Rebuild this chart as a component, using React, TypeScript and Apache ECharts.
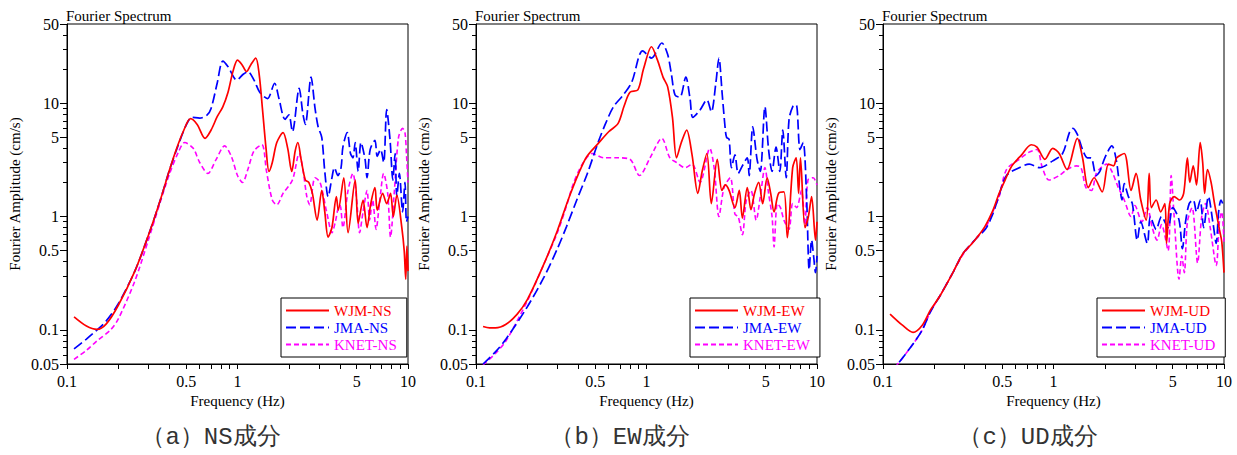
import React, { useEffect, useRef } from 'react';
import * as echarts from 'echarts';

type P = [number, number];

// ---- ticks ----
const xMajorTicks = [0.1, 0.5, 1, 5, 10];
const xMinorTicks = [0.2, 0.3, 0.4, 0.6, 0.7, 0.8, 0.9, 2, 3, 4, 6, 7, 8, 9];
const yMajorTicks = [0.05, 0.1, 0.5, 1, 5, 10, 50];
const yMinorTicks = [0.06, 0.07, 0.08, 0.09, 0.2, 0.3, 0.4, 0.6, 0.7, 0.8, 0.9, 2, 3, 4, 6, 7, 8, 9, 20, 30, 40];

const panelTitle = 'Fourier Spectrum';
const xName = 'Frequency (Hz)';
const yName = 'Fourier Amplitude (cm/s)';
const captions = ['（a）NS成分', '（b）EW成分', '（c）UD成分'];
const seriesNames = [
  ['WJM-NS', 'JMA-NS', 'KNET-NS'],
  ['WJM-EW', 'JMA-EW', 'KNET-EW'],
  ['WJM-UD', 'JMA-UD', 'KNET-UD'],
];

// ---- NS ----
const nsWJM: P[] = [
  [0.11, 0.13], [0.13, 0.108], [0.15, 0.101], [0.17, 0.113], [0.2, 0.165], [0.25, 0.33], [0.3, 0.68], [0.35, 1.35],
  [0.4, 2.6], [0.44, 4.0], [0.48, 5.6], [0.53, 7.3], [0.58, 6.5], [0.645, 4.9], [0.7, 5.8], [0.76, 7.6], [0.82, 9.3],
  [0.88, 12.5], [0.94, 19], [1.0, 24], [1.06, 22], [1.13, 19], [1.2, 22], [1.28, 25], [1.34, 18], [1.4, 9],
  [1.47, 4], [1.53, 2.5], [1.6, 3], [1.7, 4.5], [1.85, 5.5], [1.97, 4], [2.08, 2.5], [2.18, 3.8], [2.26, 4.5],
  [2.36, 3.2], [2.5, 2.1], [2.62, 2.0], [2.75, 1.6], [2.93, 0.93], [3.12, 1.7], [3.25, 1.1], [3.4, 0.66],
  [3.58, 0.8], [3.8, 1.5], [3.9, 1.14], [4.2, 2.2], [4.45, 0.72], [4.9, 2.1], [5.1, 0.87], [5.45, 1.4],
  [5.75, 0.8], [6.05, 1.3], [6.4, 1.8], [6.6, 1.14], [7.1, 1.6], [7.5, 1.3], [7.9, 1.6], [8.2, 1.0], [8.6, 1.55],
  [9.2, 0.8], [9.5, 0.5], [9.7, 0.28], [9.85, 0.55], [10, 0.33],
];
const nsJMA: P[] = [
  [0.11, 0.068], [0.13, 0.083], [0.15, 0.1], [0.17, 0.12], [0.2, 0.17], [0.25, 0.33], [0.3, 0.68], [0.35, 1.35],
  [0.4, 2.6], [0.45, 4.3], [0.5, 6.4], [0.54, 7.5], [0.6, 7.4], [0.66, 7.8], [0.7, 9], [0.76, 15], [0.82, 23.5],
  [0.88, 21], [0.99, 16], [1.08, 18], [1.15, 19], [1.25, 16], [1.35, 12.5], [1.5, 11], [1.65, 15], [1.75, 11],
  [1.9, 7.2], [2.0, 7.9], [2.1, 5.6], [2.3, 13.5], [2.42, 8], [2.5, 6.5], [2.7, 17], [2.85, 9], [2.97, 6.2],
  [3.12, 5.0], [3.25, 2.5], [3.4, 1.5], [3.58, 2.2], [3.7, 2.7], [3.88, 2.3], [4.05, 2.7], [4.15, 4.1], [4.4, 5.5],
  [4.6, 3.6], [4.75, 3.3], [4.9, 4.5], [5.1, 2.5], [5.3, 4.5], [5.6, 3.2], [5.75, 2.2], [6.0, 3.9], [6.4, 4.7],
  [6.6, 3.4], [6.9, 3.9], [7.2, 3.0], [7.5, 8.8], [7.85, 4.7], [8.15, 2.1], [8.4, 3.6], [8.6, 1.5], [8.9, 2.4],
  [9.3, 1.1], [9.6, 2.0], [9.8, 0.9], [10, 1.0],
];
const nsKNET: P[] = [
  [0.11, 0.055], [0.13, 0.066], [0.15, 0.08], [0.18, 0.1], [0.2, 0.125], [0.25, 0.27], [0.3, 0.62], [0.35, 1.3],
  [0.4, 2.4], [0.45, 3.7], [0.49, 4.5], [0.55, 4.0], [0.6, 3.0], [0.67, 2.4], [0.75, 3.2], [0.84, 4.2], [0.92, 3.4],
  [1.0, 2.3], [1.07, 2.0], [1.15, 2.6], [1.25, 3.8], [1.39, 4.3], [1.48, 2.5], [1.6, 1.4], [1.7, 1.27], [1.85, 1.6],
  [2.1, 2.1], [2.3, 3.6], [2.42, 2.6], [2.55, 1.5], [2.65, 1.27], [2.85, 2.2], [3.05, 2.0], [3.35, 1.06],
  [3.58, 0.72], [3.75, 0.9], [3.9, 1.2], [4.0, 1.25], [4.15, 0.8], [4.45, 1.7], [4.75, 2.4], [5.0, 1.4],
  [5.2, 0.72], [5.45, 1.1], [5.75, 1.7], [5.95, 0.93], [6.2, 1.4], [6.5, 0.77], [6.8, 1.3], [7.2, 2.4],
  [7.6, 1.6], [7.9, 0.66], [8.3, 1.6], [8.8, 5.0], [9.3, 6.0], [9.6, 5.5], [9.8, 3.5], [10, 2.0],
];

// ---- EW ----
const ewWJM: P[] = [
  [0.11, 0.107], [0.12, 0.104], [0.13, 0.104], [0.15, 0.112], [0.174, 0.137], [0.2, 0.185], [0.25, 0.38],
  [0.3, 0.75], [0.347, 1.4], [0.4, 2.4], [0.446, 3.37], [0.52, 4.4], [0.6, 5.6], [0.68, 6.6], [0.74, 9.5],
  [0.8, 12.5], [0.89, 13.1], [0.96, 20], [1.07, 31.5], [1.16, 24], [1.25, 17], [1.33, 14], [1.42, 7.5], [1.5, 3.3],
  [1.6, 4.5], [1.72, 5.8], [1.85, 3.5], [2.0, 1.6], [2.12, 2.5], [2.26, 3.6], [2.4, 1.3], [2.6, 3.2], [2.77, 1.7],
  [2.9, 1.9], [3.05, 1.7], [3.3, 1.2], [3.5, 1.7], [3.65, 0.97], [3.9, 1.8], [4.1, 1.15], [4.3, 1.6], [4.55, 2.0],
  [4.8, 1.3], [5.1, 2.2], [5.35, 1.6], [5.6, 1.1], [5.95, 1.6], [6.4, 1.65], [6.7, 0.65], [7.2, 2.7], [7.55, 3.3],
  [7.8, 1.6], [8.0, 3.3], [8.5, 0.8], [8.9, 1.0], [9.3, 1.5], [9.8, 0.62], [10, 0.9],
];
const ewJMA: P[] = [
  [0.11, 0.05], [0.13, 0.064], [0.15, 0.083], [0.2, 0.16], [0.25, 0.29], [0.3, 0.52], [0.34, 0.82], [0.39, 1.4],
  [0.45, 2.4], [0.52, 4.5], [0.58, 6.8], [0.64, 9.3], [0.73, 11.8], [0.82, 15.4], [0.95, 29], [1.07, 25],
  [1.23, 34], [1.33, 27], [1.4, 18], [1.47, 11.8], [1.57, 11.3], [1.7, 17], [1.8, 11], [1.87, 7.5], [2.06, 8.7],
  [2.26, 10.7], [2.4, 8.4], [2.55, 15], [2.66, 25], [2.78, 12], [2.9, 5.8], [2.95, 5.0], [3.05, 4.8], [3.15, 2.7],
  [3.3, 3.5], [3.45, 2.4], [3.65, 2.8], [3.9, 3.3], [4.0, 2.3], [4.2, 6.2], [4.45, 3.2], [4.65, 2.5], [4.95, 9.3],
  [5.2, 3.9], [5.45, 2.5], [5.75, 4.1], [6.05, 2.5], [6.3, 5.8], [6.6, 2.2], [6.85, 7.1], [7.2, 9.3], [7.55, 9.7],
  [7.95, 3.9], [8.3, 4.5], [8.7, 1.4], [9.0, 0.34], [9.3, 0.62], [9.55, 0.45], [9.8, 0.32], [10, 0.45],
];
const ewKNET: P[] = [
  [0.11, 0.049], [0.13, 0.062], [0.15, 0.08], [0.2, 0.18], [0.25, 0.38], [0.3, 0.72], [0.34, 1.25], [0.37, 1.9],
  [0.42, 2.9], [0.48, 3.6], [0.56, 3.3], [0.68, 3.3], [0.8, 3.2], [0.91, 2.3], [1.05, 3.3], [1.23, 4.9],
  [1.37, 3.3], [1.5, 3.0], [1.68, 2.7], [1.85, 2.9], [2.06, 2.0], [2.35, 4.0], [2.5, 2.6], [2.66, 1.0],
  [2.85, 1.8], [3.1, 2.2], [3.3, 1.05], [3.45, 1.0], [3.65, 0.69], [3.85, 1.4], [4.1, 1.7], [4.4, 0.93],
  [4.65, 1.5], [4.95, 2.7], [5.2, 1.6], [5.45, 1.0], [5.6, 0.54], [5.85, 1.3], [6.1, 1.2], [6.4, 0.93],
  [6.85, 0.77], [7.2, 1.3], [7.6, 1.2], [8.1, 1.7], [8.5, 0.85], [8.85, 2.1], [9.5, 2.2], [10, 1.9],
];

// ---- UD ----
const udWJM: P[] = [
  [0.11, 0.138], [0.13, 0.11], [0.15, 0.095], [0.17, 0.11], [0.19, 0.15], [0.216, 0.2], [0.257, 0.32],
  [0.294, 0.47], [0.33, 0.57], [0.355, 0.65], [0.395, 0.81], [0.442, 1.14], [0.48, 1.6], [0.52, 2.1], [0.57, 2.8],
  [0.65, 3.5], [0.74, 4.3], [0.8, 4.1], [0.89, 3.2], [0.99, 4.0], [1.08, 3.6], [1.2, 2.6], [1.38, 4.9],
  [1.48, 3.3], [1.6, 1.8], [1.73, 2.2], [1.93, 1.65], [2.1, 2.9], [2.25, 2.8], [2.35, 3.3], [2.6, 3.6],
  [2.85, 1.7], [3.05, 2.4], [3.25, 1.4], [3.5, 0.93], [3.64, 2.4], [3.75, 1.2], [4.0, 1.4], [4.25, 1.1],
  [4.5, 1.3], [4.6, 0.58], [4.8, 1.3], [5.1, 1.5], [5.5, 1.4], [5.8, 1.6], [6.1, 3.3], [6.3, 2.0], [6.6, 2.8],
  [6.9, 1.9], [7.25, 4.5], [7.5, 3.0], [7.7, 1.6], [8.0, 2.6], [8.4, 2.0], [8.8, 1.3], [9.1, 1.0], [9.4, 0.77],
  [9.7, 0.6], [10, 0.32],
];
const udJMA: P[] = [
  [0.11, 0.042], [0.122, 0.05], [0.15, 0.075], [0.17, 0.1], [0.19, 0.145], [0.216, 0.2], [0.257, 0.32],
  [0.294, 0.47], [0.355, 0.65], [0.4, 0.78], [0.44, 1.05], [0.47, 1.4], [0.53, 2.3], [0.63, 2.7], [0.72, 2.9],
  [0.83, 2.7], [0.99, 3.1], [1.13, 3.6], [1.24, 5.5], [1.3, 6.0], [1.38, 5.3], [1.48, 3.9], [1.58, 3.3],
  [1.66, 3.3], [1.78, 2.3], [1.87, 2.5], [2.0, 3.3], [2.2, 4.2], [2.33, 3.2], [2.45, 1.8], [2.52, 1.4],
  [2.6, 1.95], [2.75, 1.5], [2.9, 1.3], [3.1, 0.62], [3.25, 0.9], [3.55, 0.58], [3.7, 1.0], [4.0, 0.77],
  [4.3, 1.0], [4.7, 0.8], [5.0, 1.2], [5.45, 0.93], [5.7, 0.52], [5.95, 0.9], [6.25, 1.3], [6.6, 1.4],
  [6.9, 1.1], [7.25, 1.4], [7.6, 0.8], [8.1, 1.5], [8.6, 0.9], [9.0, 0.58], [9.3, 1.1], [9.6, 1.4], [10, 1.2],
];
const udKNET: P[] = [
  [0.11, 0.042], [0.122, 0.05], [0.15, 0.075], [0.17, 0.1], [0.19, 0.145], [0.216, 0.2], [0.257, 0.32],
  [0.294, 0.46], [0.355, 0.65], [0.4, 0.8], [0.44, 1.1], [0.48, 1.5], [0.53, 2.6], [0.63, 3.2], [0.72, 3.7],
  [0.8, 3.9], [0.86, 2.7], [0.94, 2.1], [1.08, 2.3], [1.2, 2.6], [1.36, 2.8], [1.45, 2.7], [1.55, 1.8],
  [1.67, 1.7], [1.78, 2.4], [1.9, 2.7], [2.05, 2.9], [2.2, 2.5], [2.4, 1.8], [2.6, 1.4], [2.85, 1.0],
  [3.0, 1.25], [3.3, 0.9], [3.55, 1.2], [3.8, 0.79], [4.05, 0.62], [4.3, 0.85], [4.7, 0.5], [4.9, 2.3],
  [5.1, 1.0], [5.45, 0.28], [5.65, 0.45], [5.85, 0.32], [6.1, 0.9], [6.5, 1.2], [7.0, 0.39], [7.4, 1.0],
  [7.8, 1.3], [8.3, 0.8], [9.0, 0.37], [9.4, 0.9], [9.7, 1.1], [10, 0.6],
];

const panelData: P[][][] = [
  [nsWJM, nsJMA, nsKNET],
  [ewWJM, ewJMA, ewKNET],
  [udWJM, udJMA, udKNET],
];

const seriesColors = ['#ff0000', '#0000ff', '#ff00ff'];
const seriesDash: any[] = ['solid', [10, 4], [5, 3]];
const seriesWidth = [1.7, 1.7, 1.6];

const SERIF = 'Liberation Serif';
const fmt = (v: number) => String(Number(Number(v).toPrecision(6)));

export default function App() {
  const ref = useRef<HTMLDivElement>(null);
  useEffect(() => {
    if (!ref.current) return;
    const chart = echarts.init(ref.current, undefined, { renderer: 'svg' });
    const lefts = [67, 476, 883];
    const capX = [211, 620, 1028];
    const grid: any[] = [];
    const xAxis: any[] = [];
    const yAxis: any[] = [];
    const series: any[] = [];
    const legend: any[] = [];
    const graphic: any[] = [];
    lefts.forEach((l, i) => {
      grid.push({
        left: l, top: 24, width: 341, height: 340, show: true,
        borderColor: '#000', borderWidth: 1, backgroundColor: 'transparent', containLabel: false,
      });
      xAxis.push({
        type: 'log', logBase: 10, gridIndex: i, min: 0.1, max: 10,
        name: xName, nameLocation: 'middle', nameGap: 29,
        nameTextStyle: { fontSize: 15, fontFamily: SERIF, color: '#000' },
        axisLine: { show: true, onZero: false, lineStyle: { color: '#000', width: 1 } },
        axisTick: { show: true, inside: false, length: 5, customValues: [...xMajorTicks, ...xMinorTicks], lineStyle: { color: '#000', width: 1 } },
        axisLabel: { customValues: xMajorTicks, formatter: fmt, margin: 9, fontSize: 16, fontFamily: SERIF, color: '#000' },
        splitLine: { show: false }, minorTick: { show: false }, minorSplitLine: { show: false },
      });
      yAxis.push({
        type: 'log', logBase: 10, gridIndex: i, min: 0.05, max: 50, position: 'left',
        name: yName, nameLocation: 'middle', nameGap: 45, nameRotate: 90,
        nameTextStyle: { fontSize: 15, fontFamily: SERIF, color: '#000' },
        axisLine: { show: true, onZero: false, lineStyle: { color: '#000', width: 1 } },
        axisTick: { show: true, inside: false, length: 7, customValues: yMajorTicks, lineStyle: { color: '#000', width: 1 } },
        axisLabel: { customValues: yMajorTicks, formatter: fmt, margin: 8, fontSize: 16, fontFamily: SERIF, color: '#000' },
        splitLine: { show: false }, minorTick: { show: false }, minorSplitLine: { show: false },
      });
      yAxis.push({
        type: 'log', logBase: 10, gridIndex: i, min: 0.05, max: 50, position: 'left', offset: 0,
        axisLine: { show: false },
        axisTick: { show: true, inside: false, length: 4, customValues: yMinorTicks, lineStyle: { color: '#000', width: 1 } },
        axisLabel: { show: false },
        splitLine: { show: false }, minorTick: { show: false }, minorSplitLine: { show: false },
      });
      panelData[i].forEach((d, k) => {
        series.push({
          name: seriesNames[i][k], type: 'line', xAxisIndex: i, yAxisIndex: i * 2,
          data: d, symbol: 'none', showSymbol: false, smooth: 0.3,
          lineStyle: { color: seriesColors[k], width: seriesWidth[k], type: seriesDash[k] },
          itemStyle: { color: seriesColors[k] }, z: 3 - k,
        });
      });
      legend.push({
        orient: 'vertical', left: l + 214, top: 298,
        data: seriesNames[i].map((n, k) => ({ name: n, textStyle: { color: seriesColors[k] } })),
        itemWidth: 43, itemHeight: 15, itemGap: 2,
        itemStyle: { opacity: 0, borderWidth: 0 },
        padding: [5, 10, 5, 4], borderColor: '#000', borderWidth: 1, backgroundColor: '#fff',
        textStyle: { fontSize: 15, fontFamily: SERIF },
        selectedMode: false,
      });
      graphic.push({
        type: 'text', left: l - 1, top: 8,
        style: { text: panelTitle, fontSize: 15, fontFamily: SERIF, fill: '#000' },
      });
      graphic.push({
        type: 'text', x: capX[i], y: 437,
        style: {
          text: captions[i], fontSize: 24, fontFamily: 'Liberation Mono', fill: '#333',
          align: 'center', verticalAlign: 'middle',
        },
      });
    });
    chart.setOption({
      animation: false,
      backgroundColor: '#fff',
      grid, xAxis, yAxis, series, legend, graphic,
      tooltip: { show: false },
    });
    return () => chart.dispose();
  }, []);
  return <div ref={ref} style={{ position: 'absolute', left: 0, top: 0, width: 1237, height: 455 }} />;
}
